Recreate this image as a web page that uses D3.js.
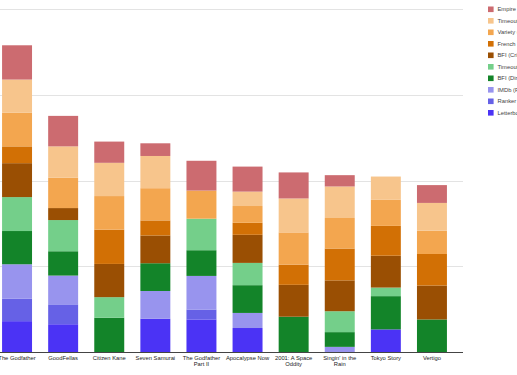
<!DOCTYPE html>
<html>
<head>
<meta charset="utf-8">
<script src="https://cdn.jsdelivr.net/npm/d3@7"></script>
<style>
  html, body { margin: 0; padding: 0; background: #fff; overflow: hidden; }
  svg { display: block; font-family: "Liberation Sans", Arial, sans-serif; }
</style>
</head>
<body>
<svg width="517" height="375"></svg>
<script>
// Films (x categories) and their wrapped tick labels
const films = ["The Godfather", "GoodFellas", "Citizen Kane", "Seven Samurai",
  "The Godfather Part II", "Apocalypse Now", "2001: A Space Odyssey",
  "Singin' in the Rain", "Tokyo Story", "Vertigo"];
const tickLabels = [["The Godfather"], ["GoodFellas"], ["Citizen Kane"], ["Seven Samurai"],
  ["The Godfather", "Part II"], ["Apocalypse Now"], ["2001: A Space", "Oddity"],
  ["Singin' in the", "Rain"], ["Tokyo Story"], ["Vertigo"]];

// Series, bottom of stack first
const lists = ["Letterboxd", "Ranker", "IMDb (Fans)", "BFI (Directors)", "Timeout (Directors)",
  "BFI (Critics)", "French (Critics)", "Variety (Critics)", "Timeout (Critics)", "Empire (Readers)"];
const colors = ["#4b33f5", "#6661e6", "#9894ee", "#138429", "#74cf8a",
  "#9a4f03", "#d27005", "#f3a64f", "#f7c58c", "#cc6b70"];

// Points per film, one array per list (same order as films)
const letterboxd = [9.0, 8.1, 0, 9.7, 9.5, 7.0, 0, 0, 6.6, 0];
const ranker     = [6.6, 5.8, 0, 0, 2.9, 0, 0, 0, 0, 0];
const imdb       = [10.0, 8.4, 0, 8.1, 9.8, 4.4, 0, 1.5, 0, 0];
const bfiDir     = [9.7, 7.1, 10.0, 8.1, 7.5, 8.1, 10.3, 4.3, 9.7, 9.5];
const timeoutDir = [9.9, 9.1, 6.0, 0, 9.2, 6.5, 0, 6.1, 2.5, 0];
const bfiCrit    = [9.9, 3.5, 9.7, 8.1, 0, 8.2, 9.3, 9.0, 9.3, 9.9];
const french     = [4.9, 0, 10.0, 4.4, 0, 3.5, 5.9, 9.3, 8.7, 9.2];
const variety    = [9.8, 8.9, 9.8, 9.4, 8.2, 4.9, 9.4, 8.9, 7.6, 6.8];
const timeoutCrit= [9.7, 9.1, 9.7, 9.4, 0, 4.2, 9.9, 9.2, 6.8, 8.1];
const empire     = [10.0, 8.9, 6.2, 3.7, 8.7, 7.3, 7.6, 3.3, 0, 5.2];

const yTicks = [0, 25, 50, 75, 100];

const seriesValues = [letterboxd, ranker, imdb, bfiDir, timeoutDir,
  bfiCrit, french, variety, timeoutCrit, empire];

// rows for d3.stack
const rows = films.map((f, i) => {
  const r = { film: f };
  lists.forEach((l, j) => { r[l] = seriesValues[j][i]; });
  return r;
});

const svg = d3.select("svg");

const x = d3.scaleBand()
  .domain(films)
  .range([-6, 455])
  .paddingInner(0.35)
  .paddingOuter(0.175);

const y = d3.scaleLinear()
  .domain([0, 100])
  .range([352, 9.3]);

const color = d3.scaleOrdinal().domain(lists).range(colors);

// gridlines
svg.append("g")
  .selectAll("line")
  .data(yTicks.filter(t => t > 0))
  .join("line")
  .attr("x1", 0)
  .attr("x2", 463)
  .attr("y1", d => Math.round(y(d)) + 0.5)
  .attr("y2", d => Math.round(y(d)) + 0.5)
  .attr("stroke", "#e3e3e3")
  .attr("stroke-width", 1);

// stacked bars
const stacked = d3.stack().keys(lists)(rows);

svg.append("g")
  .selectAll("g")
  .data(stacked)
  .join("g")
  .attr("fill", d => color(d.key))
  .selectAll("rect")
  .data(d => d.filter(s => s[1] - s[0] > 0))
  .join("rect")
  .attr("x", d => x(d.data.film))
  .attr("width", x.bandwidth())
  .attr("y", d => y(d[1]))
  .attr("height", d => y(d[0]) - y(d[1]));

// baseline
svg.append("line")
  .attr("x1", 0)
  .attr("x2", 463)
  .attr("y1", Math.round(y(0)) + 0.5)
  .attr("y2", Math.round(y(0)) + 0.5)
  .attr("stroke", "#444")
  .attr("stroke-width", 1);

// x tick labels
const labels = svg.append("g")
  .selectAll("text")
  .data(films)
  .join("text")
  .attr("x", d => x(d) + x.bandwidth() / 2)
  .attr("y", 359.5)
  .attr("text-anchor", "middle")
  .attr("font-size", "5.8px")
  .attr("fill", "#222");

labels.selectAll("tspan")
  .data((d, i) => tickLabels[i])
  .join("tspan")
  .attr("x", function () { return d3.select(this.parentNode).attr("x"); })
  .attr("dy", (d, i) => i === 0 ? 0 : 6.8)
  .text(d => d);

// legend, top item first
const legendItems = lists.slice().reverse();
const legend = svg.append("g")
  .selectAll("g")
  .data(legendItems)
  .join("g")
  .attr("transform", (d, i) => `translate(488,${9.3 + i * 11.5})`);

legend.append("rect")
  .attr("x", 0)
  .attr("y", -2.8)
  .attr("width", 5.6)
  .attr("height", 5.6)
  .attr("fill", d => color(d));

legend.append("text")
  .attr("x", 9.5)
  .attr("y", 2)
  .attr("font-size", "5.8px")
  .attr("fill", "#444")
  .text(d => d);
</script>
</body>
</html>
